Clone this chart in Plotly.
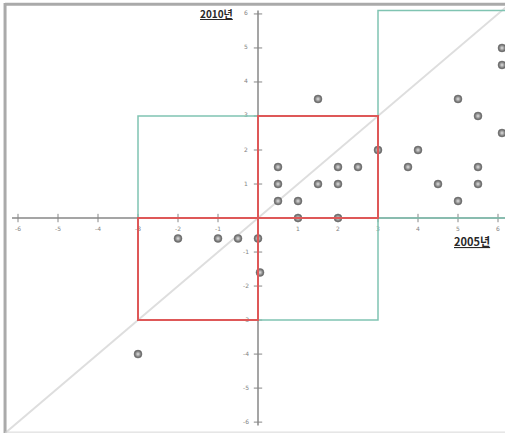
import plotly.graph_objects as go

# Change scores: 2005 (x) against 2010 (y)
x_2005 = [1.5, 0.5, 2.0, 2.5, 0.5, 1.5, 2.0, 0.5, 1.0, 1.0, 2.0, 3.0,
          6.1, 6.1, 5.0, 5.5, 6.1, 4.0, 3.75, 5.5, 4.5, 5.5, 5.0,
          -2.0, -1.0, -0.5, 0.0, 0.05, -3.0]
y_2010 = [3.5, 1.5, 1.5, 1.5, 1.0, 1.0, 1.0, 0.5, 0.5, 0.0, 0.0, 2.0,
          5.0, 4.5, 3.5, 3.0, 2.5, 2.0, 1.5, 1.5, 1.0, 1.0, 0.5,
          -0.6, -0.6, -0.6, -0.6, -1.6, -4.0]

tick_values = [-6, -5, -4, -3, -2, -1, 1, 2, 3, 4, 5, 6]
tick_labels = [str(v) for v in tick_values]

AXIS = "rgb(135,135,135)"
RED = "rgb(222,88,88)"
GREEN = "rgb(128,196,178)"
DIAG = "rgb(222,222,222)"

fig = go.Figure()

# reference diagonal y = x
fig.add_trace(go.Scatter(x=[-6.4, 6.4], y=[-6.4, 6.4], mode="lines",
                         line=dict(color=DIAG, width=2), hoverinfo="skip"))

# axes crossing at the origin
fig.add_trace(go.Scatter(x=[-6.15, 6.3], y=[0, 0], mode="lines",
                         line=dict(color=AXIS, width=1.5), hoverinfo="skip"))
fig.add_trace(go.Scatter(x=[0, 0], y=[-6.1, 6.1], mode="lines",
                         line=dict(color=AXIS, width=1.5), hoverinfo="skip"))

# tick marks
fig.add_trace(go.Scatter(x=tick_values, y=[0] * len(tick_values), mode="markers",
                         marker=dict(symbol="line-ns", size=6,
                                     line=dict(color=AXIS, width=1)),
                         hoverinfo="skip"))
fig.add_trace(go.Scatter(x=[0] * len(tick_values), y=tick_values, mode="markers",
                         marker=dict(symbol="line-ew", size=6,
                                     line=dict(color=AXIS, width=1)),
                         hoverinfo="skip"))

# tick labels
fig.add_trace(go.Scatter(x=tick_values, y=[-0.33] * len(tick_values), mode="text",
                         text=tick_labels,
                         textfont=dict(size=6, color="rgb(130,130,130)",
                                       family="DejaVu Sans"),
                         hoverinfo="skip"))
fig.add_trace(go.Scatter(x=[-0.3] * len(tick_values), y=tick_values, mode="text",
                         text=tick_labels,
                         textfont=dict(size=6, color="rgb(130,130,130)",
                                       family="DejaVu Sans"),
                         hoverinfo="skip"))

# quadrant frames
green_boxes = [(-3, 3, -3, 3), (3, 6.5, 0, 6.1)]
red_boxes = [(0, 3, 0, 3), (-3, 0, -3, 0)]
for x0, x1, y0, y1 in green_boxes:
    fig.add_shape(type="rect", x0=x0, x1=x1, y0=y0, y1=y1,
                  line=dict(color=GREEN, width=1.5), layer="above")
for x0, x1, y0, y1 in red_boxes:
    fig.add_shape(type="rect", x0=x0, x1=x1, y0=y0, y1=y1,
                  line=dict(color=RED, width=2), layer="above")

# data points
fig.add_trace(go.Scatter(x=x_2005, y=y_2010, mode="markers",
                         marker=dict(size=8, color="rgb(85,85,85)",
                                     gradient=dict(type="radial", color="rgb(225,225,225)"),
                                     line=dict(color="rgb(120,120,120)", width=0.5))))

# axis titles
fig.add_annotation(x=-1.05, y=6.0, text="<b><u>2010년</u></b>", showarrow=False,
                   font=dict(size=10, color="rgb(40,40,40)", family="Noto Sans CJK KR"))
fig.add_annotation(x=5.35, y=-0.68, text="<b><u>2005년</u></b>", showarrow=False,
                   font=dict(size=11, color="rgb(40,40,40)", family="Noto Sans CJK KR"))

# window frame
fig.add_shape(type="line", xref="paper", yref="paper", x0=0.01, x1=0.01, y0=0, y1=0.993,
              line=dict(color="rgb(170,170,170)", width=3))
fig.add_shape(type="line", xref="paper", yref="paper", x0=0.01, x1=1, y0=0.99, y1=0.99,
              line=dict(color="rgb(170,170,170)", width=3))
fig.add_shape(type="line", xref="paper", yref="paper", x0=0.01, x1=1, y0=0.002, y1=0.002,
              line=dict(color="rgb(215,215,215)", width=1))

fig.update_layout(
    width=505, height=433,
    margin=dict(l=0, r=0, t=0, b=0),
    showlegend=False,
    plot_bgcolor="white", paper_bgcolor="white",
    xaxis=dict(range=[-6.45, 6.175], visible=False, fixedrange=True),
    yaxis=dict(range=[-6.32, 6.41], visible=False, fixedrange=True),
)

fig.write_html("out.html")
